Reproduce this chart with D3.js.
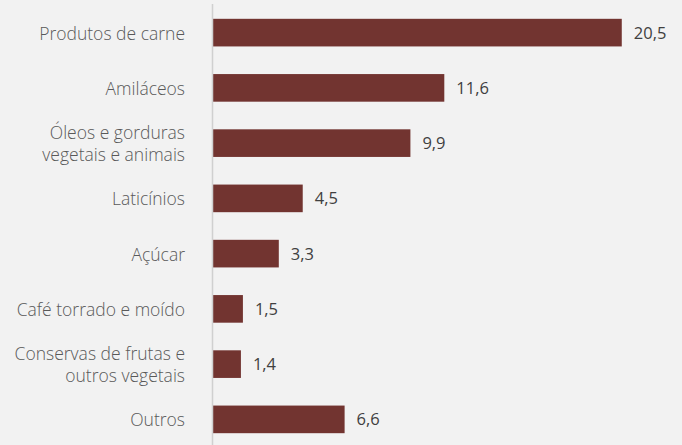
<!DOCTYPE html>
<html>
<head>
<meta charset="utf-8">
<script src="https://cdn.jsdelivr.net/npm/d3@7"></script>
<style>
  html, body { margin: 0; padding: 0; background: #f2f2f2; }
  svg { display: block; }
  .cat { font-family: "Open Sans", "Noto Sans", sans-serif; font-size: 17.5px; fill: #595959; font-weight: 300; }
  .val { font-family: "Open Sans", "Noto Sans", sans-serif; font-size: 16.5px; fill: #404040; }
</style>
</head>
<body>
<svg id="chart" width="682" height="445"></svg>
<script>
// Categories (multi-line labels split with "\n") and their values
const categories = [
  "Produtos de carne",
  "Amiláceos",
  "Óleos e gorduras\nvegetais e animais",
  "Laticínios",
  "Açúcar",
  "Café torrado e moído",
  "Conservas de frutas e\noutros vegetais",
  "Outros"
];
const values = [20.5, 11.6, 9.9, 4.5, 3.3, 1.5, 1.4, 6.6];

const W = 682, H = 445;
const svg = d3.select("#chart");

svg.append("rect").attr("width", W).attr("height", H).attr("fill", "#f2f2f2");

const x = d3.scaleLinear().domain([0, 22]).range([213, 213 + 22 * 19.94]);
const y = d3.scaleBand().domain(categories).range([5, 447]).paddingInner(0.5).paddingOuter(0.25);

const fmt = v => d3.format(".1f")(v).replace(".", ",");

// Bars
svg.append("g").selectAll("rect")
  .data(categories)
  .join("rect")
  .attr("x", x(0))
  .attr("y", d => y(d))
  .attr("width", (d, i) => x(values[i]) - x(0))
  .attr("height", y.bandwidth())
  .attr("fill", "#723430");

// Vertical baseline
svg.append("line")
  .attr("x1", x(0) - 0.5).attr("x2", x(0) - 0.5)
  .attr("y1", 4).attr("y2", H)
  .attr("stroke", "#d0d0d0").attr("stroke-width", 1.5);

// Category labels
const labels = svg.append("g").selectAll("text")
  .data(categories)
  .join("text")
  .attr("class", "cat")
  .attr("text-anchor", "end")
  .attr("x", 185)
  .attr("y", d => y(d) + y.bandwidth() / 2);

labels.each(function(d) {
  const lines = d.split("\n");
  const t = d3.select(this);
  const lh = 22;
  lines.forEach((ln, k) => {
    t.append("tspan")
      .attr("x", 185)
      .attr("dy", k === 0 ? ((-(lines.length - 1) * lh) / 2 + 7) : lh)
      .text(ln);
  });
});

// Value labels
svg.append("g").selectAll("text")
  .data(categories)
  .join("text")
  .attr("class", "val")
  .attr("x", (d, i) => x(values[i]) + 12)
  .attr("y", d => y(d) + y.bandwidth() / 2 + 6)
  .text((d, i) => fmt(values[i]));
</script>
</body>
</html>
